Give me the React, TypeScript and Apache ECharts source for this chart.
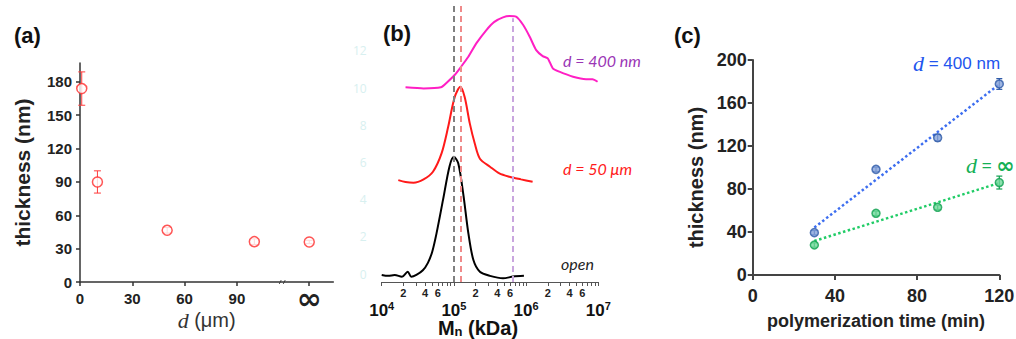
import React, { useEffect, useRef } from 'react';
import * as echarts from 'echarts';

// ---------- Panel (a): thickness vs gap distance d ----------
const INF_POS = 131.5; // position of "∞" on the broken d axis
const A_BREAK = 116; // where the axis break mark sits
const aDistance = [1, 10, 50, 100, INF_POS];
const aThickness = [174, 90, 46.5, 36.3, 36];
const aError = [15, 10, 2.5, 2.5, 1.5];
const aXTicks = [0, 30, 60, 90, INF_POS];
const aYTicks = [0, 30, 60, 90, 120, 150, 180];

// ---------- Panel (b): GPC traces, x = log10(Mn) ----------
const bOpen: [number, number][] = [
  [4.0, -0.05], [4.09, -0.1], [4.18, -0.05], [4.28, -0.15], [4.36, 0.12], [4.41, -0.15],
  [4.48, -0.05], [4.57, 0.2], [4.64, 0.6], [4.7, 1.2], [4.76, 2.2], [4.85, 4.0], [4.94, 5.8],
  [5.0, 6.3], [5.06, 5.95], [5.13, 4.3], [5.2, 2.2], [5.27, 0.75], [5.36, 0.12], [5.5, -0.1],
  [5.68, -0.23], [5.82, -0.14], [5.97, -0.1],
];
const bFifty: [number, number][] = [
  [4.23, 5.05], [4.33, 4.95], [4.44, 4.91], [4.58, 5.09], [4.71, 5.5], [4.83, 6.5], [4.92, 7.9],
  [5.01, 9.5], [5.09, 10.07], [5.15, 9.5], [5.22, 8.1], [5.29, 7.0], [5.36, 6.2], [5.5, 5.77],
  [5.63, 5.41], [5.77, 5.23], [5.93, 5.09], [6.09, 4.96],
];
const bFourHundred: [number, number][] = [
  [4.33, 10.04], [4.58, 9.98], [4.82, 10.04], [4.9, 10.29], [5.01, 10.7], [5.1, 11.15],
  [5.2, 11.68], [5.31, 12.4], [5.45, 13.12], [5.56, 13.56], [5.68, 13.8], [5.77, 13.87],
  [5.86, 13.84], [5.96, 13.39], [6.05, 12.76], [6.14, 12.04], [6.23, 11.72], [6.3, 11.6],
  [6.37, 11.06], [6.46, 10.88], [6.65, 10.61], [6.83, 10.48], [6.92, 10.48], [6.99, 10.34],
];
const bPeakPos = [5.0, 5.09, 5.82]; // log10 Mn of the dashed markers
const bPeakTop = [14.46, 14.46, 13.76];
const bPeakColors = ['#808080', '#f08a8a', '#c9a6de'];
const bDecades = [4, 5, 6, 7];
const bMinorMult = [2, 3, 4, 5, 6, 7, 8, 9];
const bMinorLabelMult = [2, 4, 6];
const bYTicks = [0, 2, 4, 6, 8, 10, 12];

// ---------- Panel (c): thickness vs polymerization time ----------
const cTime = [30, 60, 90, 120];
const c400 = [39.4, 98.3, 127.7, 177.7];
const c400Err = [2, 2, 3, 5];
const cInf = [27.9, 57.4, 63, 86];
const cInfErr = [2, 2, 2, 6];

const SANS = 'Liberation Sans, Arial, sans-serif';

function linFit(xs: number[], ys: number[]): [number, number][] {
  const n = xs.length;
  const mx = xs.reduce((a, b) => a + b, 0) / n;
  const my = ys.reduce((a, b) => a + b, 0) / n;
  let sxy = 0, sxx = 0;
  for (let i = 0; i < n; i++) { sxy += (xs[i] - mx) * (ys[i] - my); sxx += (xs[i] - mx) ** 2; }
  const b = sxy / sxx;
  const a = my - b * mx;
  return [[xs[0], a + b * xs[0]], [xs[n - 1], a + b * xs[n - 1]]];
}

function errRender(color: string, cap: number, lw: number) {
  return (params: any, api: any) => {
    const x = api.value(0), y = api.value(1), e = api.value(2);
    const t = api.coord([x, y + e]);
    const b = api.coord([x, y - e]);
    const style = { stroke: color, lineWidth: lw };
    return {
      type: 'group',
      children: [
        { type: 'line', shape: { x1: t[0], y1: t[1], x2: b[0], y2: b[1] }, style },
        { type: 'line', shape: { x1: t[0] - cap, y1: t[1], x2: t[0] + cap, y2: t[1] }, style },
        { type: 'line', shape: { x1: b[0] - cap, y1: b[1], x2: b[0] + cap, y2: b[1] }, style },
      ],
    };
  };
}

export default function App() {
  const ref = useRef<HTMLDivElement>(null);
  useEffect(() => {
    if (!ref.current) return;
    const chart = echarts.init(ref.current, undefined, { renderer: 'svg' });

    const bTickVals: number[] = [];
    bDecades.forEach((d) => {
      bTickVals.push(d);
      if (d < 7) bMinorMult.forEach((m) => bTickVals.push(d + Math.log10(m)));
    });
    const bMinorLabelVals: number[] = [];
    bDecades.slice(0, 3).forEach((d) => bMinorLabelMult.forEach((m) => bMinorLabelVals.push(d + Math.log10(m))));

    const axisDark = { color: '#333', width: 1.5 };
    const tickLabel = { fontFamily: SANS, fontWeight: 'bold' as const, color: '#222' };

    const option: any = {
      animation: false,
      grid: [
        { left: 80, top: 63, width: 253.3, height: 219, outerBoundsMode: 'none' },
        { left: 381.7, top: 4, width: 216.6, height: 278, outerBoundsMode: 'none' },
        { left: 752.7, top: 60, width: 246.6, height: 215, outerBoundsMode: 'none' },
      ],
      xAxis: [
        {
          gridIndex: 0, type: 'value', min: 0, max: 145.3,
          axisLine: { lineStyle: axisDark },
          axisTick: { customValues: aXTicks, length: 4, lineStyle: axisDark },
          axisLabel: {
            customValues: aXTicks, margin: 9, fontSize: 15, ...tickLabel,
            formatter: (v: number) => (v > 120 ? '{inf|∞}' : String(v)),
            rich: { inf: { fontFamily: 'DejaVu Sans', fontWeight: 'bold', fontSize: 30, lineHeight: 15, color: '#222' } },
          },
          splitLine: { show: false },
          name: '{d|d} (μm)', nameLocation: 'middle', nameGap: 29, nameMoveOverlap: false,
          nameTextStyle: {
            fontFamily: SANS, fontSize: 20, color: '#333', lineHeight: 18,
            rich: { d: { fontFamily: 'Liberation Serif', fontStyle: 'italic', fontSize: 22, lineHeight: 18, color: '#333' } },
          },
        },
        {
          gridIndex: 1, type: 'value', min: 4, max: 7, position: 'bottom',
          axisLine: { onZero: false, lineStyle: { color: '#555', width: 1 } },
          axisTick: { customValues: bTickVals, length: 4, lineStyle: { color: '#555', width: 1 } },
          axisLabel: {
            customValues: bMinorLabelVals, margin: 5, fontSize: 11, ...tickLabel,
            formatter: (v: number) => String(Math.round(10 ** (v - Math.floor(v + 1e-9)))),
          },
          splitLine: { show: false },
          name: '{m|M}{s|n}{m| (kDa)}', nameLocation: 'middle', nameGap: 36, nameMoveOverlap: false,
          nameTextStyle: {
            padding: [0, 24, 0, 0],
            rich: {
              m: { fontFamily: SANS, fontWeight: 'bold', fontSize: 20, lineHeight: 20, color: '#111' },
              s: { fontFamily: SANS, fontWeight: 'bold', fontSize: 13, lineHeight: 20, verticalAlign: 'bottom', padding: [6, 0, 0, 0], color: '#111' },
            },
          },
        },
        {
          gridIndex: 1, type: 'value', min: 4, max: 7, position: 'bottom',
          axisLine: { show: false, onZero: false }, axisTick: { show: false },
          axisLabel: {
            customValues: bDecades, margin: 18,
            formatter: (v: number) => '{b|10}{sup|' + v + '}',
            rich: {
              b: { fontFamily: SANS, fontWeight: 'bold', fontSize: 17, lineHeight: 20, color: '#111' },
              sup: { fontFamily: SANS, fontWeight: 'bold', fontSize: 11, lineHeight: 20, verticalAlign: 'top', color: '#111' },
            },
          },
          splitLine: { show: false },
        },
        {
          gridIndex: 2, type: 'value', min: 0, max: 120, interval: 40,
          axisLine: { lineStyle: { color: '#444', width: 2 } },
          axisTick: { length: 5, lineStyle: { color: '#444', width: 2 } },
          axisLabel: { margin: 12, fontSize: 18, ...tickLabel },
          splitLine: { show: false },
          name: 'polymerization time (min)', nameLocation: 'middle', nameGap: 37, nameMoveOverlap: false,
          nameTextStyle: { fontFamily: SANS, fontWeight: 'bold', fontSize: 18, color: '#222' },
        },
      ],
      yAxis: [
        {
          gridIndex: 0, type: 'value', min: 0, max: 197,
          axisLine: { lineStyle: axisDark },
          axisTick: { customValues: aYTicks, length: 4, lineStyle: axisDark },
          axisLabel: { customValues: aYTicks, margin: 8, fontSize: 15, ...tickLabel },
          splitLine: { show: false },
          name: 'thickness (nm)', nameLocation: 'middle', nameGap: 47, nameMoveOverlap: false,
          nameTextStyle: { fontFamily: SANS, fontWeight: 'bold', fontSize: 21, color: '#222' },
        },
        {
          gridIndex: 1, type: 'value', min: -0.43, max: 14.52,
          axisLine: { show: false }, axisTick: { show: false }, splitLine: { show: false },
          axisLabel: { customValues: bYTicks, margin: 15, fontSize: 12, fontFamily: 'Open Sans', color: '#d8f0f0' },
        },
        {
          gridIndex: 2, type: 'value', min: 0, max: 200, interval: 40,
          axisLine: { lineStyle: { color: '#444', width: 2 } },
          axisTick: { length: 5, lineStyle: { color: '#444', width: 2 } },
          axisLabel: { margin: 6, fontSize: 18, ...tickLabel },
          splitLine: { show: false },
          name: 'thickness (nm)', nameLocation: 'middle', nameGap: 47, nameMoveOverlap: false,
          nameTextStyle: { fontFamily: SANS, fontWeight: 'bold', fontSize: 20, color: '#222', padding: [0, 20, 0, 0] },
        },
      ],
      series: [
        // panel (a)
        {
          type: 'custom', xAxisIndex: 0, yAxisIndex: 0, z: 2,
          renderItem: errRender('#ff3b3b', 3.5, 1),
          data: aDistance.map((d, i) => [d, aThickness[i], aError[i]]),
          encode: { x: 0, y: 1 },
        },
        {
          type: 'scatter', xAxisIndex: 0, yAxisIndex: 0, z: 3,
          symbol: 'circle', symbolSize: 10,
          itemStyle: { color: '#fff', borderColor: '#ff2a2a', borderWidth: 1.5 },
          data: aDistance.map((d, i) => [d, aThickness[i]]),
        },
        // panel (b)
        {
          type: 'line', xAxisIndex: 1, yAxisIndex: 1, showSymbol: false, smooth: 0.3,
          lineStyle: { color: '#000', width: 2 }, data: bOpen,
          markLine: {
            silent: true, symbol: 'none', label: { show: false },
            data: bPeakPos.map((p, i) => [
              { coord: [p, -0.43], lineStyle: { color: bPeakColors[i], width: 2, type: [6, 4] } },
              { coord: [p, bPeakTop[i]] },
            ]),
          },
        },
        {
          type: 'line', xAxisIndex: 1, yAxisIndex: 1, showSymbol: false, smooth: 0.3,
          lineStyle: { color: '#ff1a1a', width: 2 }, data: bFifty,
        },
        {
          type: 'line', xAxisIndex: 1, yAxisIndex: 1, showSymbol: false, smooth: 0.2,
          lineStyle: { color: '#ff1fc4', width: 2 }, data: bFourHundred,
        },
        // panel (c)
        {
          type: 'line', xAxisIndex: 3, yAxisIndex: 2, showSymbol: false,
          lineStyle: { color: '#3d6ef0', width: 2.5, type: 'dotted' }, data: linFit(cTime, c400),
        },
        {
          type: 'line', xAxisIndex: 3, yAxisIndex: 2, showSymbol: false,
          lineStyle: { color: '#20cc66', width: 2.5, type: 'dotted' }, data: linFit(cTime, cInf),
        },
        {
          type: 'custom', xAxisIndex: 3, yAxisIndex: 2, z: 3,
          renderItem: errRender('#2e5aa8', 3, 1.2),
          data: cTime.map((t, i) => [t, c400[i], c400Err[i]]), encode: { x: 0, y: 1 },
        },
        {
          type: 'custom', xAxisIndex: 3, yAxisIndex: 2, z: 3,
          renderItem: errRender('#10a050', 3, 1.2),
          data: cTime.map((t, i) => [t, cInf[i], cInfErr[i]]), encode: { x: 0, y: 1 },
        },
        {
          type: 'scatter', xAxisIndex: 3, yAxisIndex: 2, z: 4, symbolSize: 8,
          itemStyle: { color: '#86a3da', borderColor: '#2e5aa8', borderWidth: 1.5 },
          data: cTime.map((t, i) => [t, c400[i]]),
        },
        {
          type: 'scatter', xAxisIndex: 3, yAxisIndex: 2, z: 4, symbolSize: 8,
          itemStyle: { color: '#6fd89a', borderColor: '#10a050', borderWidth: 1.5 },
          data: cTime.map((t, i) => [t, cInf[i]]),
        },
      ],
    };
    chart.setOption(option);

    const brk = chart.convertToPixel({ gridIndex: 0 }, [A_BREAK, 0]) as number[];
    const panelLabel = (txt: string, x: number, y: number) => ({
      type: 'text', x, y,
      style: { text: txt, fill: '#111', fontFamily: SANS, fontWeight: 'bold', fontSize: 22, align: 'left', verticalAlign: 'middle' },
    });
    const italicNote = (txt: string, x: number, y: number, color: string) => ({
      type: 'text', x, y,
      style: { text: txt, fill: color, fontFamily: 'Lato', fontStyle: 'italic', fontSize: 16, align: 'left', verticalAlign: 'middle' },
    });
    chart.setOption({
      graphic: [
        panelLabel('(a)', 14, 35),
        panelLabel('(b)', 383, 33),
        panelLabel('(c)', 674, 35),
        {
          type: 'group', x: brk[0], y: brk[1],
          children: [
            { type: 'rect', shape: { x: -3, y: -2.5, width: 6, height: 5 }, style: { fill: '#fff' } },
            { type: 'line', shape: { x1: -3, y1: 2, x2: -1, y2: -2 }, style: { stroke: '#555', lineWidth: 1 } },
            { type: 'line', shape: { x1: 1, y1: 2, x2: 3, y2: -2 }, style: { stroke: '#555', lineWidth: 1 } },
          ],
        },
        italicNote('d = 400 nm', 563, 60, '#9a35b5'),
        italicNote('d = 50 μm', 563, 168, '#ff1a1a'),
        italicNote('open', 561, 263, '#222'),
        {
          type: 'text', x: 913, y: 63,
          style: {
            text: '{d|d}{t| = 400 nm}', align: 'left', verticalAlign: 'middle',
            rich: {
              d: { fontFamily: 'Liberation Serif', fontStyle: 'italic', fontSize: 22, fill: '#2255ee', color: '#2255ee' },
              t: { fontFamily: SANS, fontSize: 17, fill: '#2255ee', color: '#2255ee' },
            },
          },
        },
        {
          type: 'text', x: 966, y: 165,
          style: {
            text: '{d|d}{t| = }{i|∞}', align: 'left', verticalAlign: 'middle',
            rich: {
              d: { fontFamily: 'Liberation Serif', fontStyle: 'italic', fontSize: 22, fill: '#15b055', color: '#15b055' },
              t: { fontFamily: SANS, fontSize: 17, fill: '#15b055', color: '#15b055' },
              i: { fontFamily: 'DejaVu Sans', fontWeight: 'bold', fontSize: 22, fill: '#15b055', color: '#15b055' },
            },
          },
        },
      ],
    });

    return () => chart.dispose();
  }, []);

  return (
    <div
      ref={ref}
      style={{ position: 'absolute', left: 0, top: 0, width: 1016, height: 339, background: '#fff' }}
    />
  );
}
